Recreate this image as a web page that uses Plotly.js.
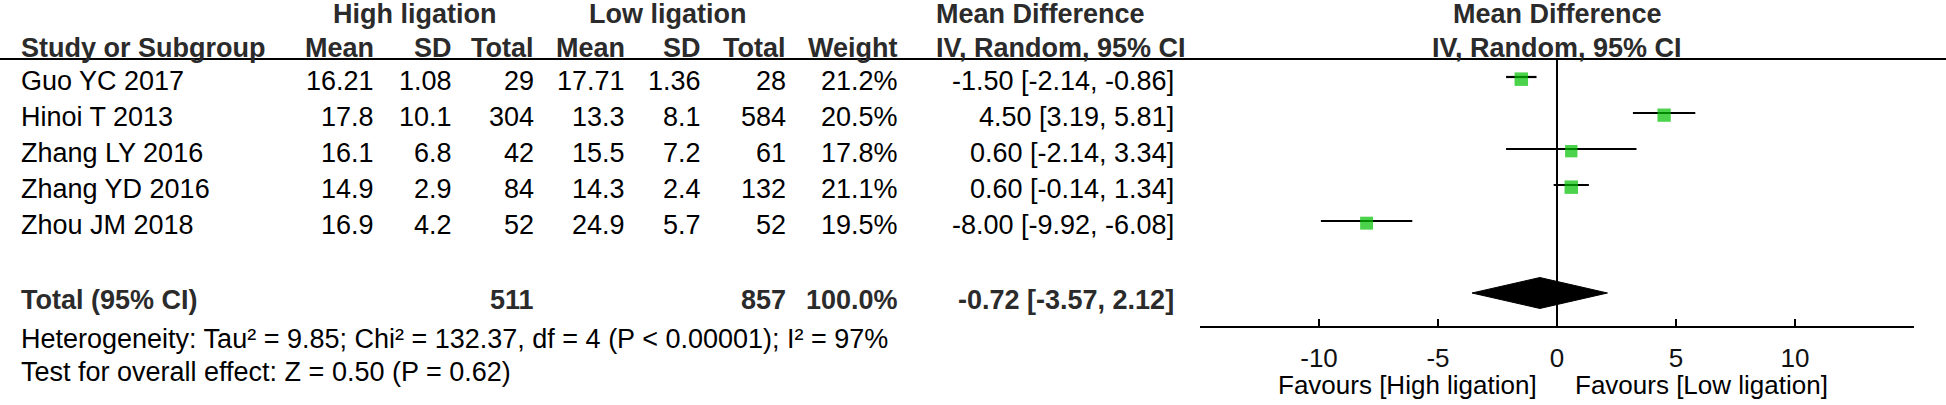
<!DOCTYPE html>
<html>
<head>
<meta charset="utf-8">
<script src="https://cdn.plot.ly/plotly-3.0.1.min.js"></script>
<style>html,body{margin:0;padding:0;background:#fff;}#chart{width:1946px;height:405px;}</style>
</head>
<body>
<div id="chart"></div>
<script>
// ---- data ----
const studies   = ['Guo YC 2017', 'Hinoi T 2013', 'Zhang LY 2016', 'Zhang YD 2016', 'Zhou JM 2018'];
const highMean  = [16.21, 17.8, 16.1, 14.9, 16.9];
const highSD    = [1.08, 10.1, 6.8, 2.9, 4.2];
const highN     = [29, 304, 42, 84, 52];
const lowMean   = [17.71, 13.3, 15.5, 14.3, 24.9];
const lowSD     = [1.36, 8.1, 7.2, 2.4, 5.7];
const lowN      = [28, 584, 61, 132, 52];
const weights   = [21.2, 20.5, 17.8, 21.1, 19.5];
const md        = [-1.50, 4.50, 0.60, 0.60, -8.00];
const ciLow     = [-2.14, 3.19, -2.14, -0.14, -9.92];
const ciHigh    = [-0.86, 5.81, 3.34, 1.34, -6.08];
const totalHighN = 511;
const totalLowN  = 857;
const totalWeight = 100.0;
const totalMD    = -0.72;
const totalLow   = -3.57;
const totalHigh  = 2.12;
const tickVals   = [-10, -5, 0, 5, 10];
const tickText   = ['-10', '-5', '0', '5', '10'];
const heterogeneity = 'Heterogeneity: Tau² = 9.85; Chi² = 132.37, df = 4 (P < 0.00001); I² = 97%';
const overallTest   = 'Test for overall effect: Z = 0.50 (P = 0.62)';
const favLeft  = 'Favours [High ligation]';
const favRight = 'Favours [Low ligation]';

// ---- layout helpers ----
const W = 1946, H = 405;
const row0px = 77, rowPx = 36;
const yTop = -row0px / rowPx, yBot = (H - row0px) / rowPx;
const totalRow = studies.length + 1;   // 6
const ruleRow = -0.5;
const axisRow = (327 - row0px) / rowPx;
const FONT = '"Liberation Sans", Arial, sans-serif';
const FS = 27;
const LEFT = 19;

function fmt2(v){ return v.toFixed(2); }
function ciText(m, l, h){ return fmt2(m) + ' [' + fmt2(l) + ', ' + fmt2(h) + ']'; }

const annotations = [];
function ann(text, xpx, y, anchor, bold, xref, size){
  annotations.push({
    text: bold ? '<b>' + text + '</b>' : text,
    x: xref === 'x' ? xpx : xpx / W, xref: xref || 'paper',
    y: y, yref: 'y',
    xanchor: anchor, yanchor: 'middle',
    showarrow: false,
    font: {family: FONT, size: size || FS, color: bold ? '#2b2b2b' : '#000'}
  });
}

// columns (right edges in px)
const cols = {mh:376, sh:454, nh:536, ml:627, sl:703, nl:788, w:900, ci:1176};
const hdr1 = -1.75, hdr2 = -0.8, txtOff = 0.12;

ann('High ligation', 414, hdr1, 'center', true);
ann('Low ligation', 667, hdr1, 'center', true);
ann('Mean Difference', 934, hdr1, 'left', true);
ann('Mean Difference', 0, hdr1, 'center', true, 'x');
ann('Study or Subgroup', LEFT, hdr2, 'left', true);
ann('Mean', cols.mh, hdr2, 'right', true);
ann('SD', cols.sh, hdr2, 'right', true);
ann('Total', cols.nh, hdr2, 'right', true);
ann('Mean', cols.ml, hdr2, 'right', true);
ann('SD', cols.sl, hdr2, 'right', true);
ann('Total', cols.nl, hdr2, 'right', true);
ann('Weight', cols.w, hdr2, 'right', true);
ann('IV, Random, 95% CI', 934, hdr2, 'left', true);
ann('IV, Random, 95% CI', 0, hdr2, 'center', true, 'x');

studies.forEach((s, i) => {
  const y = i + txtOff;
  ann(s, LEFT, y, 'left');
  ann(String(highMean[i]), cols.mh, y, 'right');
  ann(String(highSD[i]), cols.sh, y, 'right');
  ann(String(highN[i]), cols.nh, y, 'right');
  ann(String(lowMean[i]), cols.ml, y, 'right');
  ann(String(lowSD[i]), cols.sl, y, 'right');
  ann(String(lowN[i]), cols.nl, y, 'right');
  ann(weights[i].toFixed(1) + '%', cols.w, y, 'right');
  ann(ciText(md[i], ciLow[i], ciHigh[i]), cols.ci, y, 'right');
});

const ty = totalRow + 0.2;
ann('Total (95% CI)', LEFT, ty, 'left', true);
ann(String(totalHighN), cols.nh, ty, 'right', true);
ann(String(totalLowN), cols.nl, ty, 'right', true);
ann(totalWeight.toFixed(1) + '%', cols.w, ty, 'right', true);
ann(ciText(totalMD, totalLow, totalHigh), cols.ci, ty, 'right', true);
ann(heterogeneity, LEFT, (339 - row0px) / rowPx, 'left');
ann(overallTest, LEFT, (372 - row0px) / rowPx, 'left');

const favY = (385 - row0px) / rowPx;
ann(favLeft, 1539, favY, 'right', false, null, 26);
ann(favRight, 1573, favY, 'left', false, null, 26);

// ---- traces ----
const rows = studies.map((s, i) => i);
const ciX = [], ciY = [];
rows.forEach(i => { ciX.push(ciLow[i], ciHigh[i], null); ciY.push(i, i, null); });

const traces = [
  {type:'scatter', mode:'lines', x:ciX, y:ciY, line:{color:'#000', width:2.2}, hoverinfo:'skip', xaxis:'x', yaxis:'y'},
  {type:'scatter', mode:'markers', x:md, y:rows.map(r => r + 0.06),
   marker:{symbol:'square', color:'#00c000', size:weights.map(w => 13.5*Math.sqrt(w/21.2)), line:{width:0}},
   hoverinfo:'skip'},
  {type:'scatter', mode:'lines', fill:'toself', fillcolor:'#000',
   x:[totalLow, totalMD, totalHigh, totalMD, totalLow],
   y:[totalRow, totalRow - 0.43, totalRow, totalRow + 0.43, totalRow],
   line:{color:'#000', width:1}, hoverinfo:'skip'}
];

const layout = {
  width: W, height: H,
  margin: {l:0, r:0, t:0, b:0},
  paper_bgcolor: '#fff', plot_bgcolor: 'rgba(0,0,0,0)',
  showlegend: false,
  xaxis: {
    domain: [1200 / W, 1914 / W], range: [-15, 15],
    anchor: 'free', position: 1 - (axisRow - yTop) / (yBot - yTop),
    showline: true, linecolor: '#000', linewidth: 2,
    ticks: 'inside', ticklen: 7, tickwidth: 2, tickcolor: '#000',
    tickvals: tickVals, ticktext: tickText,
    tickfont: {family: FONT, size: 26, color: '#111'},
    ticklabelstandoff: 8,
    showgrid: false, zeroline: false, fixedrange: true
  },
  yaxis: {domain: [0, 1], range: [yBot, yTop], visible: false, fixedrange: true},
  shapes: [
    {type:'line', xref:'paper', x0:0, x1:1, yref:'y', y0:ruleRow, y1:ruleRow, line:{color:'#000', width:2}},
    {type:'line', xref:'x', x0:0, x1:0, yref:'y', y0:ruleRow, y1:axisRow, line:{color:'#000', width:2}}
  ],
  annotations: annotations
};

Plotly.newPlot('chart', traces, layout, {staticPlot: true, displayModeBar: false});
</script>
</body>
</html>
